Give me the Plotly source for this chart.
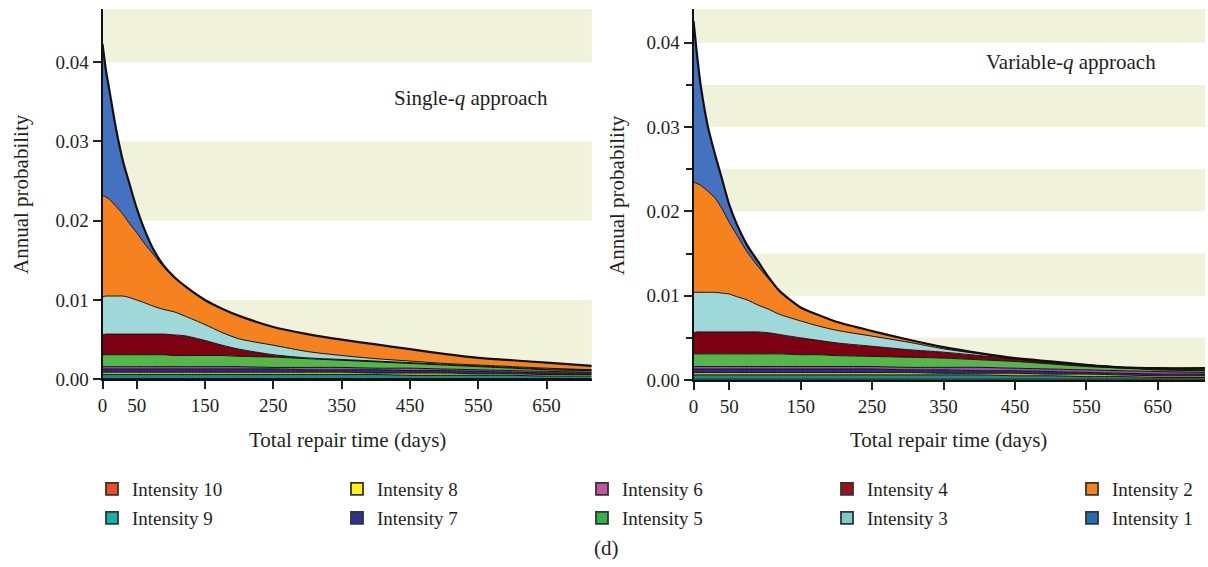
import plotly.graph_objects as go

# ---------------- data ----------------
days = [0, 5, 10, 20, 30, 40, 50, 60, 75, 90, 105, 120, 150, 175, 200, 250, 300, 350, 400, 450, 500, 550, 600, 650, 716]
x_tick_vals = [0, 50, 150, 250, 350, 450, 550, 650]

# Single-q approach: cumulative top of each intensity band (stacked from Intensity 10 at the bottom)
single_i1 = [0.0423, 0.0390, 0.0365, 0.0315, 0.0275, 0.0245, 0.0216, 0.0192, 0.0163, 0.0143, 0.0129, 0.0118, 0.0100, 0.0089, 0.0080, 0.0066, 0.0057, 0.0050, 0.0044, 0.0038, 0.0032, 0.0027, 0.0024, 0.0021, 0.0017]
single_i2 = [0.0232, 0.0230, 0.0227, 0.0218, 0.0208, 0.0196, 0.0185, 0.0173, 0.0157, 0.0141, 0.0128, 0.0118, 0.0100, 0.0089, 0.0080, 0.0066, 0.0057, 0.0050, 0.0044, 0.0038, 0.0032, 0.0027, 0.0024, 0.0021, 0.0017]
single_i3 = [0.0104, 0.0105, 0.0105, 0.0105, 0.0105, 0.0103, 0.0100, 0.0097, 0.0092, 0.0088, 0.0085, 0.0080, 0.0069, 0.0059, 0.0051, 0.0043, 0.0035, 0.0030, 0.0026, 0.0023, 0.0020, 0.0018, 0.0016, 0.0014, 0.0012]
single_i4 = [0.0056, 0.0057, 0.0057, 0.0057, 0.0057, 0.0057, 0.0057, 0.0057, 0.0057, 0.0057, 0.0056, 0.0055, 0.0049, 0.0043, 0.0038, 0.0031, 0.0027, 0.0025, 0.0023, 0.0021, 0.0019, 0.0017, 0.0015, 0.0013, 0.0012]
single_i5 = [0.0031, 0.0031, 0.0031, 0.0031, 0.0031, 0.0031, 0.0031, 0.0031, 0.0031, 0.0031, 0.0030, 0.0030, 0.0030, 0.0030, 0.0029, 0.0028, 0.0026, 0.0024, 0.0022, 0.0020, 0.0018, 0.0016, 0.0014, 0.0012, 0.0011]
single_i6 = [0.0016, 0.0016, 0.0016, 0.0016, 0.0016, 0.0016, 0.0016, 0.0016, 0.0016, 0.0016, 0.0016, 0.0016, 0.0016, 0.0016, 0.0016, 0.0015, 0.0015, 0.0015, 0.0014, 0.0014, 0.0013, 0.0012, 0.0011, 0.0010, 0.0009]
single_i7 = [0.0013, 0.0013, 0.0013, 0.0013, 0.0013, 0.0013, 0.0013, 0.0013, 0.0013, 0.0013, 0.0013, 0.0013, 0.0013, 0.0013, 0.0013, 0.0013, 0.0012, 0.0012, 0.0012, 0.0011, 0.0011, 0.0010, 0.0009, 0.0008, 0.0008]
single_i8 = [0.0009, 0.0009, 0.0009, 0.0009, 0.0009, 0.0009, 0.0009, 0.0009, 0.0009, 0.0009, 0.0009, 0.0009, 0.0009, 0.0009, 0.0009, 0.0009, 0.0009, 0.0009, 0.0008, 0.0008, 0.0008, 0.0007, 0.0007, 0.0006, 0.0006]
single_i9 = [0.0006, 0.0006, 0.0006, 0.0006, 0.0006, 0.0006, 0.0006, 0.0006, 0.0006, 0.0006, 0.0006, 0.0006, 0.0006, 0.0006, 0.0006, 0.0006, 0.0006, 0.0006, 0.0006, 0.0005, 0.0005, 0.0005, 0.0005, 0.0004, 0.0004]
single_i10 = [0.0001, 0.0001, 0.0001, 0.0001, 0.0001, 0.0001, 0.0001, 0.0001, 0.0001, 0.0001, 0.0001, 0.0001, 0.0001, 0.0001, 0.0001, 0.0001, 0.0001, 0.0001, 0.0001, 0.0001, 0.0001, 0.0001, 0.0001, 0.0001, 0.0001]

# Variable-q approach
variable_i1 = [0.0426, 0.0385, 0.0350, 0.0301, 0.0268, 0.0238, 0.0208, 0.0186, 0.0160, 0.0141, 0.0122, 0.0106, 0.0086, 0.0077, 0.0069, 0.0058, 0.0048, 0.0039, 0.0032, 0.0026, 0.0022, 0.0018, 0.0015, 0.0014, 0.0014]
variable_i2 = [0.0235, 0.0233, 0.0231, 0.0224, 0.0216, 0.0203, 0.0187, 0.0173, 0.0152, 0.0135, 0.0120, 0.0106, 0.0086, 0.0077, 0.0069, 0.0058, 0.0048, 0.0039, 0.0032, 0.0026, 0.0022, 0.0018, 0.0015, 0.0014, 0.0014]
variable_i3 = [0.0104, 0.0104, 0.0104, 0.0104, 0.0104, 0.0103, 0.0102, 0.0099, 0.0095, 0.0089, 0.0084, 0.0078, 0.0070, 0.0064, 0.0059, 0.0052, 0.0045, 0.0037, 0.0031, 0.0025, 0.0021, 0.0018, 0.0015, 0.0013, 0.0013]
variable_i4 = [0.0056, 0.0057, 0.0057, 0.0057, 0.0057, 0.0057, 0.0057, 0.0057, 0.0057, 0.0057, 0.0056, 0.0054, 0.0050, 0.0047, 0.0044, 0.0040, 0.0036, 0.0033, 0.0029, 0.0025, 0.0021, 0.0018, 0.0015, 0.0013, 0.0012]
variable_i5 = [0.0031, 0.0031, 0.0031, 0.0031, 0.0031, 0.0031, 0.0031, 0.0031, 0.0031, 0.0031, 0.0031, 0.0031, 0.0030, 0.0030, 0.0029, 0.0028, 0.0027, 0.0026, 0.0024, 0.0022, 0.0019, 0.0016, 0.0014, 0.0012, 0.0011]
variable_i6 = [0.0016, 0.0016, 0.0016, 0.0016, 0.0016, 0.0016, 0.0016, 0.0016, 0.0016, 0.0016, 0.0016, 0.0016, 0.0016, 0.0016, 0.0016, 0.0016, 0.0015, 0.0015, 0.0015, 0.0014, 0.0013, 0.0012, 0.0011, 0.0010, 0.0009]
variable_i7 = [0.0013, 0.0013, 0.0013, 0.0013, 0.0013, 0.0013, 0.0013, 0.0013, 0.0013, 0.0013, 0.0013, 0.0013, 0.0013, 0.0013, 0.0013, 0.0013, 0.0012, 0.0012, 0.0011, 0.0011, 0.0010, 0.0009, 0.0008, 0.0007, 0.0007]
variable_i8 = [0.0009, 0.0009, 0.0009, 0.0009, 0.0009, 0.0009, 0.0009, 0.0009, 0.0009, 0.0009, 0.0009, 0.0009, 0.0009, 0.0009, 0.0009, 0.0009, 0.0009, 0.0008, 0.0008, 0.0008, 0.0007, 0.0007, 0.0006, 0.0005, 0.0005]
variable_i9 = [0.0006, 0.0006, 0.0006, 0.0006, 0.0006, 0.0006, 0.0006, 0.0006, 0.0006, 0.0006, 0.0006, 0.0006, 0.0006, 0.0006, 0.0006, 0.0006, 0.0006, 0.0006, 0.0006, 0.0005, 0.0005, 0.0004, 0.0004, 0.0003, 0.0003]
variable_i10 = [0.0001, 0.0001, 0.0001, 0.0001, 0.0001, 0.0001, 0.0001, 0.0001, 0.0001, 0.0001, 0.0001, 0.0001, 0.0001, 0.0001, 0.0001, 0.0001, 0.0001, 0.0001, 0.0001, 0.0001, 0.0001, 0.0001, 0.0001, 0.0001, 0.0001]

intensity_names = ["Intensity 1", "Intensity 2", "Intensity 3", "Intensity 4", "Intensity 5",
                   "Intensity 6", "Intensity 7", "Intensity 8", "Intensity 9", "Intensity 10"]
intensity_colors = ["#4472C0", "#F5821F", "#9FD8D8", "#7E0012", "#52B848",
                    "#A844B4", "#2E2A8E", "#B8B020", "#1A8A86", "#EC4A2A"]
legend_colors = ["#1F6EB5", "#F5821F", "#7CCACA", "#9A111D", "#2FB24A",
                 "#C4559F", "#2E3192", "#FFF01A", "#14B1A6", "#EE4B2B"]

single_series = [single_i1, single_i2, single_i3, single_i4, single_i5,
                 single_i6, single_i7, single_i8, single_i9, single_i10]
variable_series = [variable_i1, variable_i2, variable_i3, variable_i4, variable_i5,
                   variable_i6, variable_i7, variable_i8, variable_i9, variable_i10]

single_bands = [(0.00, 0.01), (0.02, 0.03), (0.04, 0.0467)]
variable_bands = [(0.000, 0.005), (0.010, 0.015), (0.020, 0.025), (0.030, 0.035), (0.040, 0.044)]

# ---------------- figure ----------------
FONT = "Liberation Serif"
TXT = "#231F20"
W, H = 1208, 567

fig = go.Figure()

def add_stack(series, xa, ya):
    # bottom (Intensity 10) to top (Intensity 1)
    for k in range(9, -1, -1):
        fig.add_trace(go.Scatter(
            x=days, y=series[k], xaxis=xa, yaxis=ya,
            mode="lines",
            line=dict(color="#111111", width=2.2 if k == 0 else 1, shape="spline", smoothing=0.7),
            fill="tozeroy" if k == 9 else "tonexty",
            fillcolor=intensity_colors[k],
            showlegend=False, hoverinfo="skip",
            name=intensity_names[k],
        ))

add_stack(single_series, "x", "y")
add_stack(variable_series, "x2", "y2")

# legend entries: row 1 = 10, 8, 6, 4, 2 ; row 2 = 9, 7, 5, 3, 1
row1 = [9, 7, 5, 3, 1]
row2 = [8, 6, 4, 2, 0]
for legname, row in (("legend", row1), ("legend2", row2)):
    for j, k in enumerate(row):
        fig.add_trace(go.Bar(
            x=[None], y=[None], name=intensity_names[k],
            marker=dict(color=legend_colors[k], line=dict(color="#333333", width=1.8)),
            showlegend=True, legend=legname,
            legendwidth=(200 if j < 4 else 90),
        ))

def px_x(p):
    return p / W

def px_y(p):
    return (H - p) / H

axis_common = dict(
    showline=True, linecolor="#111111", showgrid=False, zeroline=False,
    ticks="outside", tickcolor="#222222", tickwidth=1.5,
    tickfont=dict(family=FONT, size=19, color=TXT),
)

legend_common = dict(orientation="h", xanchor="left", yanchor="middle",
                     entrywidthmode="pixels", entrywidth=200, traceorder="normal",
                     font=dict(family=FONT, size=19, color=TXT), bgcolor="rgba(0,0,0,0)")

fig.update_layout(
    width=W, height=H,
    margin=dict(l=0, r=0, t=0, b=0, autoexpand=False),
    paper_bgcolor="white", plot_bgcolor="white",
    font=dict(family=FONT, color=TXT),
    barmode="overlay",
    xaxis=dict(domain=[px_x(102.5), px_x(591.7)], range=[0, 716], tickvals=x_tick_vals,
               ticklen=8, linewidth=1.5, anchor="y", **axis_common),
    yaxis=dict(domain=[px_y(379.3), px_y(9)], range=[0, 0.0467],
               tickvals=[0, 0.01, 0.02, 0.03, 0.04], tickformat=".2f",
               ticklen=8, linewidth=2, anchor="x", **axis_common),
    xaxis2=dict(domain=[px_x(693.5), px_x(1205)], range=[0, 716], tickvals=x_tick_vals,
                ticklen=8, linewidth=1.5, anchor="y2", **axis_common),
    yaxis2=dict(domain=[px_y(380), px_y(9)], range=[0, 0.044],
                tickvals=[0, 0.01, 0.02, 0.03, 0.04], tickformat=".2f",
                ticklen=8, linewidth=2, anchor="x2",
                minor=dict(dtick=0.005, ticks="outside", ticklen=6, tickcolor="#222222", tickwidth=1.5),
                **axis_common),
    legend=dict(x=px_x(92), y=px_y(489), **legend_common),
    legend2=dict(x=px_x(92), y=px_y(518), **legend_common),
)

shapes = []
for lo, hi in single_bands:
    shapes.append(dict(type="rect", xref="x domain", yref="y", x0=0, x1=1, y0=lo, y1=hi,
                       fillcolor="#F0F3D9", line=dict(width=0), layer="below"))
for lo, hi in variable_bands:
    shapes.append(dict(type="rect", xref="x2 domain", yref="y2", x0=0, x1=1, y0=lo, y1=hi,
                       fillcolor="#F0F3D9", line=dict(width=0), layer="below"))
fig.update_layout(shapes=shapes)

ann_font = dict(family=FONT, size=21, color=TXT)
annotations = [
    dict(text="Single-<i>q</i> approach", x=px_x(471), y=px_y(98)),
    dict(text="Variable-<i>q</i> approach", x=px_x(1071), y=px_y(62)),
    dict(text="Total repair time (days)", x=px_x(347), y=px_y(440)),
    dict(text="Total repair time (days)", x=px_x(948), y=px_y(440)),
    dict(text="Annual probability", x=px_x(21), y=px_y(194), textangle=-90),
    dict(text="Annual probability", x=px_x(617), y=px_y(195), textangle=-90),
    dict(text="(d)", x=px_x(606), y=px_y(548)),
]
for a in annotations:
    a.update(xref="paper", yref="paper", showarrow=False, font=ann_font,
             xanchor="center", yanchor="middle")
fig.update_layout(annotations=annotations)

fig.write_html("out.html")
